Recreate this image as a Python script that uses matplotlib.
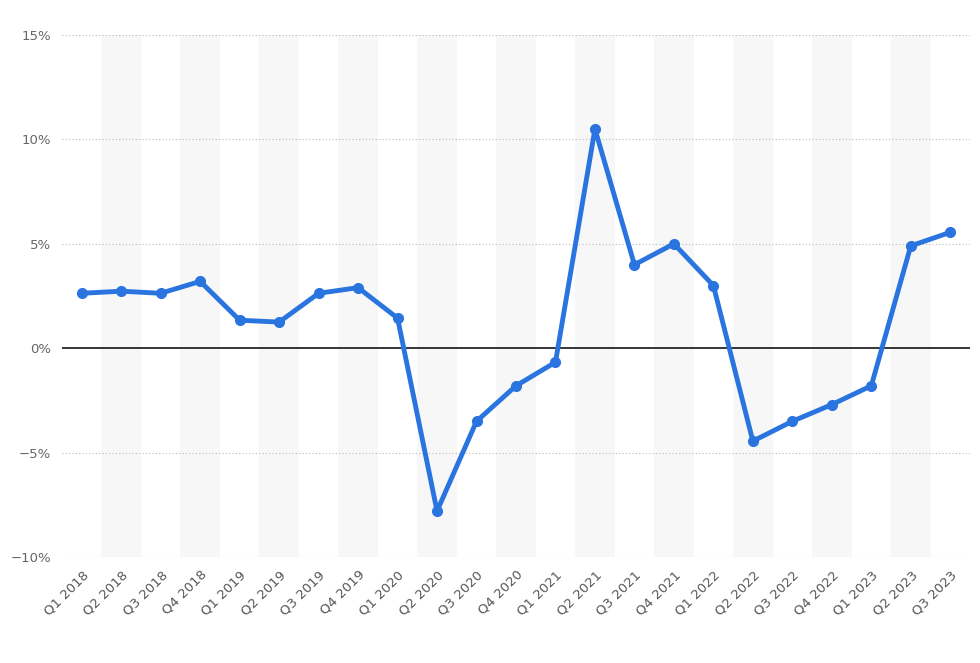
import matplotlib
matplotlib.use("Agg")
import matplotlib.pyplot as plt

quarters = ["Q1 2018", "Q2 2018", "Q3 2018", "Q4 2018", "Q1 2019", "Q2 2019", "Q3 2019",
            "Q4 2019", "Q1 2020", "Q2 2020", "Q3 2020", "Q4 2020", "Q1 2021", "Q2 2021",
            "Q3 2021", "Q4 2021", "Q1 2022", "Q2 2022", "Q3 2022", "Q4 2022", "Q1 2023",
            "Q2 2023", "Q3 2023"]
growth = [2.63, 2.73, 2.63, 3.2, 1.34, 1.25, 2.63, 2.9, 1.44, -7.8, -3.5, -1.8, -0.67,
          10.5, 4.0, 5.0, 3.0, -4.45, -3.5, -2.7, -1.8, 4.9, 5.55]
yticks = [-10, -5, 0, 5, 10, 15]

fig = plt.figure(figsize=(9.8, 6.63), dpi=100)
ax = fig.add_axes([62 / 980, 106 / 663, 908 / 980, 522 / 663])
x = range(len(quarters))

# alternating background bands
for i in x:
    if i % 2 == 1:
        ax.axvspan(i - 0.5, i + 0.5, color="#f7f7f7", zorder=0, lw=0)

for t in yticks:
    if t != 0:
        ax.axhline(t, color="#bbbbbb", lw=0.8, ls=(0, (1, 2)), zorder=1)
ax.axhline(0, color="black", lw=1.1, zorder=2)

ax.plot(x, growth, color="#2a74e0", lw=3.5, marker="o", ms=7, zorder=3,
        solid_joinstyle="round")

ax.set_xlim(-0.5, len(quarters) - 0.5)
ax.set_ylim(-10, 15)
ax.set_yticks(yticks)
ax.set_yticklabels([f"{t}%".replace("-", "\u2212") for t in yticks], color="#666666", fontsize=9.5)
ax.set_xticks(list(x))
ax.set_xticklabels(quarters, rotation=45, ha="right", rotation_mode="anchor",
                   color="#555555", fontsize=9.5)
ax.tick_params(length=0, pad=8)
for s in ax.spines.values():
    s.set_visible(False)

fig.savefig("out.png", dpi=100)
